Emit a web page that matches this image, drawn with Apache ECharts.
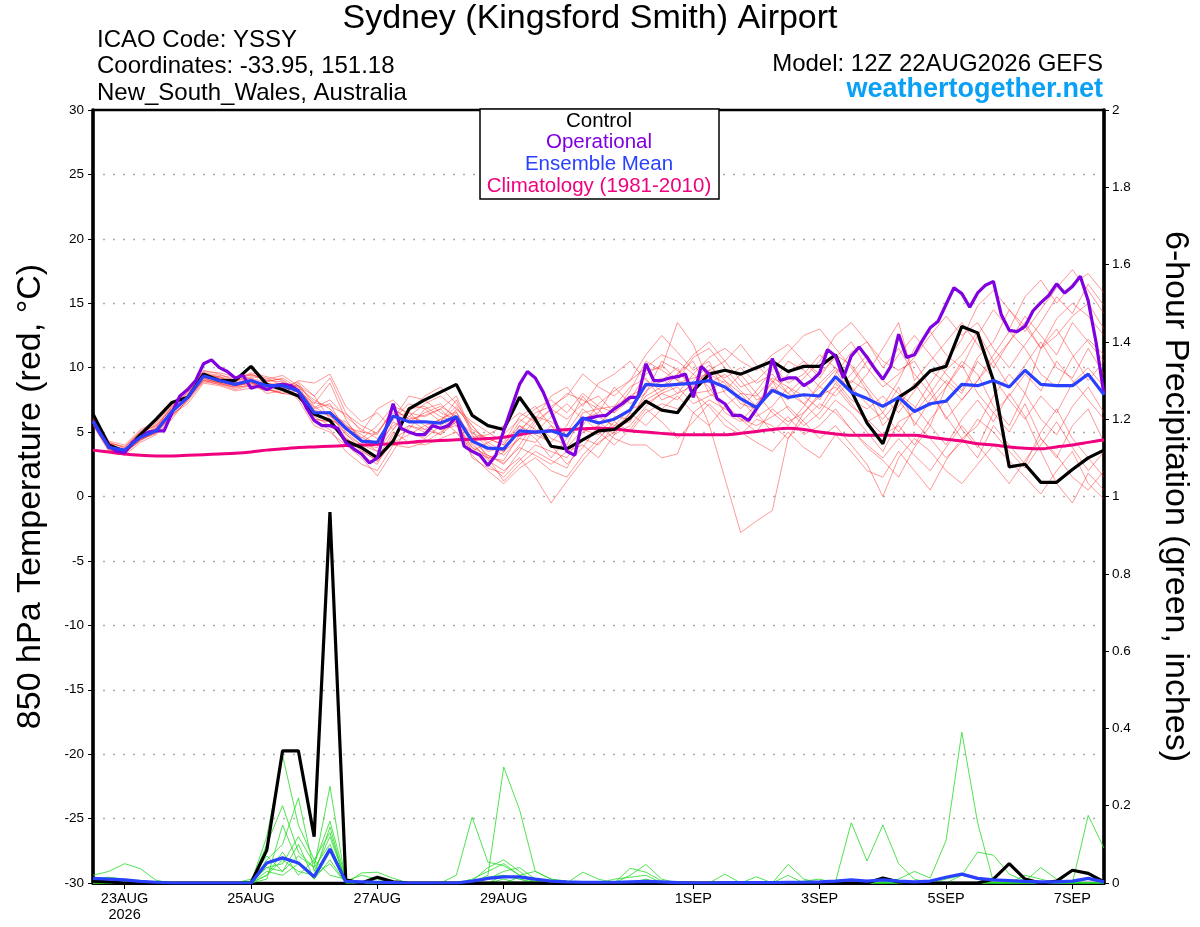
<!DOCTYPE html>
<html><head><meta charset="utf-8">
<script src="https://cdn.jsdelivr.net/npm/echarts@6/dist/echarts.min.js"></script>
<style>html,body{margin:0;padding:0;background:#fff}#c{width:1200px;height:927px}</style>
</head><body><div id="c"></div>
<script>
// ---- time axis (hours since 22AUG2026 12Z) ----
const tickHours = [12, 60, 108, 156, 228, 276, 324, 372];
const tickLabels = ['23AUG\n2026', '25AUG', '27AUG', '29AUG', '1SEP', '3SEP', '5SEP', '7SEP'];
const tempTicks = [-30, -25, -20, -15, -10, -5, 0, 5, 10, 15, 20, 25, 30];
const precipTicks = [0, 0.2, 0.4, 0.6, 0.8, 1, 1.2, 1.4, 1.6, 1.8, 2];

// ---- 850 hPa temperature, 6-hourly (65 steps) ----
const controlTemp = [6.4,4.0,3.5,4.8,6.0,7.3,7.7,9.5,9.0,9.0,
10.1,8.7,8.3,7.8,6.4,5.9,4.3,3.8,3.0,4.3,
6.8,7.5,8.1,8.7,6.3,5.5,5.2,7.7,6.0,3.9,
3.7,4.4,5.1,5.2,6.1,7.4,6.7,6.5,8.2,9.5,
9.8,9.5,10.0,10.5,9.7,10.1,10.1,11.0,8.2,5.7,
4.1,7.7,8.5,9.75,10.1,13.2,12.7,9.0,2.3,2.5,
1.1,1.1,2.1,3.0,3.6];
const meanTemp = [5.85,3.8,3.6,4.6,5.1,6.6,7.7,9.35,9.0,8.7,
9.0,8.6,8.6,8.2,6.5,6.5,5.3,4.3,4.2,6.25,
5.8,5.8,5.7,6.2,4.3,3.75,3.7,5.1,5.0,5.1,
4.7,6.1,5.7,6.0,6.7,8.7,8.6,8.7,8.8,9.0,
8.5,7.6,6.9,8.25,7.7,7.9,7.8,9.3,8.1,7.6,
7.0,7.7,6.6,7.2,7.4,8.7,8.6,9.0,8.5,9.8,
8.7,8.6,8.6,9.5,7.9];
const climoTemp = [3.6,3.45,3.3,3.2,3.15,3.15,3.2,3.25,3.3,3.35,
3.45,3.6,3.7,3.8,3.85,3.9,3.95,4.0,4.05,4.1,
4.2,4.3,4.35,4.4,4.45,4.5,4.6,4.8,5.0,5.1,
5.2,5.25,5.3,5.25,5.1,5.0,4.9,4.8,4.8,4.8,
4.8,4.9,5.05,5.2,5.3,5.2,5.0,4.85,4.75,4.75,
4.75,4.75,4.75,4.6,4.45,4.3,4.1,4.0,3.85,3.75,
3.7,3.85,4.0,4.2,4.4];
// operational run, 3-hourly (129 steps)
const operTemp = [5.85,4.8,3.9,3.5,3.4,4.2,4.6,5.0,5.1,5.1,
6.5,7.8,8.3,9.0,10.3,10.6,10.0,9.7,9.2,9.4,
8.4,8.6,8.3,8.6,8.7,8.6,8.2,6.9,5.9,5.5,
5.5,5.3,4.2,3.7,3.3,2.6,3.0,5.1,7.2,5.3,
5.0,4.8,4.8,5.5,5.3,5.5,6.2,3.9,3.5,3.2,
2.4,3.2,5.1,6.9,8.7,9.7,9.2,8.1,6.6,5.1,
3.5,3.2,6.0,6.1,6.25,6.3,6.8,7.2,7.7,7.7,
10.3,9.0,9.0,9.2,9.3,9.5,7.7,10.1,9.5,7.6,
7.2,6.3,6.3,5.9,6.8,7.7,10.7,9.0,9.2,9.2,
8.6,9.0,9.6,11.4,10.9,9.2,10.9,11.6,10.8,9.9,
9.1,10.1,12.6,10.8,11.0,12.1,13.1,13.6,14.9,16.2,
15.75,14.7,15.8,16.4,16.7,14.1,12.9,12.8,13.2,14.4,
15.05,15.6,16.5,15.8,16.3,17.1,15.2,11.95,7.9];
// ensemble members (red)
const mem01 = [6.0,4.2,3.8,5.0,5.6,6.8,8.3,9.6,9.2,8.9,9.5,9.0,8.9,8.0,6.0,5.8,4.6,3.5,2.8,4.5,5.2,6.8,7.2,6.0,3.0,2.2,1.8,3.5,5.5,6.8,6.0,7.2,7.8,6.5,7.5,9.5,10.2,9.0,8.4,9.8,10.5,9.0,7.5,8.0,9.5,10.5,9.2,11.0,10.2,8.5,7.0,9.0,11.5,12.8,11.0,10.0,12.5,14.5,13.0,15.5,16.8,15.0,16.5,17.3,15.8];
const mem02 = [5.5,3.5,3.2,4.2,4.8,6.0,7.6,9.0,8.7,8.5,8.6,8.8,8.5,8.6,7.8,9.2,6.5,5.0,4.8,6.8,6.0,5.2,4.8,6.8,5.5,4.0,3.2,4.5,4.2,5.5,3.8,5.2,4.8,6.2,6.0,7.8,8.5,9.5,10.5,8.0,7.2,6.0,5.0,6.8,5.8,6.5,7.8,8.5,7.0,6.0,4.8,5.5,4.0,6.0,7.5,5.2,3.8,6.5,5.0,7.2,4.5,3.0,5.5,6.8,4.2];
const mem03 = [6.2,4.0,3.4,4.8,5.3,7.0,8.0,9.8,9.5,9.0,9.2,8.3,8.0,8.8,7.0,6.2,5.8,4.5,5.5,7.0,6.5,6.2,6.8,5.5,3.8,3.2,2.5,4.0,5.8,4.5,4.0,6.5,6.8,5.2,6.5,9.8,10.0,13.5,11.8,8.8,9.5,8.2,7.0,9.0,6.8,5.5,6.5,8.2,9.5,11.0,9.0,8.0,7.0,5.5,8.5,10.5,9.5,7.0,5.5,8.0,11.5,13.0,11.0,9.0,10.5];
const mem04 = [5.8,3.7,3.5,4.4,5.0,6.4,7.2,8.8,8.6,8.2,8.4,8.5,8.8,7.5,5.5,5.0,4.0,3.0,1.6,3.5,5.5,5.0,5.8,7.5,4.8,3.0,1.2,2.5,3.5,2.8,2.2,4.5,4.0,5.5,6.8,7.2,8.0,7.5,9.0,10.2,9.0,7.5,6.2,7.0,8.5,7.2,6.0,7.5,6.5,5.0,3.5,5.8,6.5,8.0,6.2,4.5,5.5,7.8,9.5,8.0,6.0,4.8,7.0,8.5,6.5];
const mem05 = [6.0,3.9,3.7,4.7,5.4,6.9,8.1,9.4,9.3,8.8,8.9,8.0,8.2,9.0,8.8,9.5,7.0,5.8,6.5,5.2,6.8,7.0,6.2,5.8,3.5,4.2,4.8,6.0,5.2,4.0,2.5,3.8,5.5,7.0,7.8,8.5,9.2,8.0,9.5,8.5,6.5,5.8,7.2,8.8,10.5,9.8,8.5,9.8,8.0,9.5,11.5,13.5,9.0,10.5,12.0,13.5,11.8,10.0,12.0,14.0,12.5,11.0,13.5,12.0,10.5];
const mem06 = [5.6,3.6,3.3,4.5,4.9,6.2,7.5,9.2,8.8,8.4,8.7,8.9,9.2,8.4,6.8,7.2,5.0,4.0,3.5,5.8,5.0,4.5,5.5,6.5,4.5,3.5,3.8,5.2,6.2,5.8,5.0,6.8,5.8,4.8,5.5,7.0,8.0,8.5,7.2,7.8,8.2,9.5,8.0,6.5,5.5,7.0,8.8,10.0,8.5,7.2,6.0,7.5,5.8,4.5,3.0,4.2,6.0,5.0,3.5,2.2,4.0,5.8,3.8,2.0,3.5];
const mem07 = [6.3,4.3,4.0,5.2,5.8,7.2,8.5,9.7,9.6,9.3,9.4,9.2,8.6,8.5,7.5,6.8,5.5,4.8,4.0,6.0,7.2,6.8,5.8,7.0,5.2,4.5,4.0,5.8,6.8,7.5,6.5,8.0,7.0,6.5,8.2,10.5,9.8,9.0,10.8,11.5,10.0,8.5,9.0,10.2,8.8,9.5,11.0,10.0,8.8,10.5,9.2,11.0,12.5,11.0,9.5,8.2,10.8,12.0,14.5,13.2,11.5,13.8,15.0,14.0,12.5];
const mem08 = [5.7,3.8,3.5,4.3,5.2,6.6,7.8,9.0,8.9,8.6,8.8,8.4,8.0,7.8,6.2,5.5,4.5,3.8,3.0,5.0,4.2,4.0,4.5,5.0,3.2,2.0,1.0,2.2,3.0,2.0,1.5,3.2,4.5,5.8,5.0,6.5,7.2,6.8,8.0,7.0,5.5,4.8,6.0,5.5,4.5,6.0,7.2,6.5,5.2,4.0,3.0,4.5,3.2,2.0,3.8,5.5,4.0,2.5,1.0,2.8,4.5,3.2,1.5,0.5,2.0];
const mem09 = [6.1,4.1,3.6,4.9,5.5,6.5,7.9,9.5,9.1,9.1,9.6,9.3,9.0,8.2,7.2,8.8,6.0,4.2,5.0,6.5,5.8,6.5,7.0,6.2,4.0,3.0,2.8,4.8,5.0,6.2,7.2,6.0,6.5,8.5,7.2,8.0,10.5,9.8,8.5,5.6,1.4,-2.8,-1.9,-1.1,4.5,6.5,8.0,9.0,7.5,6.8,7.8,6.5,8.2,9.8,8.8,7.5,9.0,10.5,8.5,10.2,12.0,10.0,9.2,11.5,9.5];
const mem10 = [5.9,3.9,3.4,4.6,5.0,6.7,7.7,9.3,9.0,8.7,9.0,8.7,8.8,8.6,6.6,6.3,4.8,4.0,3.8,6.2,6.5,5.5,6.0,6.6,4.2,2.8,2.0,3.0,1.5,-0.5,1.2,2.8,4.2,5.0,6.0,7.5,8.2,8.8,9.2,9.5,8.8,7.2,6.8,8.5,7.5,8.8,7.5,9.5,11.2,12.0,10.5,9.8,10.5,8.5,6.0,7.5,9.0,11.0,12.8,11.5,9.5,8.5,10.8,12.2,11.0];
const mem11 = [5.8,3.7,3.6,4.5,5.2,6.5,7.6,9.1,8.9,8.6,8.9,8.6,8.7,8.1,6.3,6.0,5.4,5.0,6.8,7.5,6.2,5.8,5.2,5.5,4.6,4.8,5.5,6.5,5.8,6.8,8.0,7.5,6.8,7.0,8.5,9.2,7.5,8.0,8.6,9.8,9.2,10.0,8.8,9.5,8.0,7.2,8.5,7.8,9.0,8.2,5.5,7.0,8.8,7.0,8.5,10.2,8.0,6.5,7.8,9.5,8.2,10.5,9.0,7.5,6.0];
const mem12 = [6.1,4.0,3.7,4.7,5.1,6.8,7.9,9.4,9.2,8.8,9.1,8.5,8.4,8.3,6.9,7.5,6.2,5.2,4.5,6.0,7.8,7.5,6.5,6.0,4.9,4.5,4.0,5.5,4.8,4.2,5.5,7.8,6.2,5.5,5.8,8.2,9.0,10.0,8.0,8.2,9.0,8.0,7.8,9.2,8.5,7.8,6.8,8.8,7.2,5.8,6.5,8.5,5.5,7.5,9.0,8.0,10.5,9.2,7.5,6.0,7.8,6.5,8.8,10.0,8.5];
const mem13 = [5.7,3.8,3.3,4.4,5.0,6.3,7.4,8.9,8.7,8.3,8.6,8.2,8.3,7.9,5.8,5.2,3.5,2.5,2.0,4.0,3.8,4.2,5.0,5.8,3.8,2.5,1.5,2.8,4.0,3.5,3.0,5.0,5.5,4.5,4.0,4.0,3.0,3.3,6.5,7.5,6.8,6.0,5.5,6.2,7.0,5.8,4.5,5.5,4.0,2.5,0.0,3.0,4.5,3.5,2.0,1.0,2.5,4.0,2.8,1.5,0.2,2.0,3.5,1.0,-0.2];
const mem14 = [6.0,4.1,3.9,5.0,5.5,7.0,8.2,9.5,9.3,9.0,9.3,9.1,9.4,8.6,7.3,7.0,6.4,5.5,4.9,6.8,6.0,6.3,6.8,7.8,5.0,3.8,3.5,5.0,6.5,7.0,7.8,9.5,8.5,7.8,9.0,10.0,11.0,10.5,9.5,10.8,11.5,10.5,9.8,11.0,11.8,10.5,9.5,10.8,12.0,10.0,8.5,9.5,10.8,12.5,14.0,12.5,13.5,11.5,10.0,11.8,13.5,15.5,14.2,16.5,14.8];
const mem15 = [5.9,3.8,3.5,4.6,5.3,6.7,7.8,9.2,9.1,8.8,9.2,8.8,8.5,8.9,7.8,6.0,5.2,4.6,4.0,5.5,6.2,7.2,7.8,6.8,5.8,5.0,4.2,6.2,7.0,5.5,4.8,5.5,7.2,8.2,9.0,11.0,12.5,11.2,9.8,10.5,8.0,6.8,8.2,9.8,11.2,12.5,13.0,11.5,10.0,8.2,6.5,5.0,6.8,8.8,10.5,12.2,14.8,16.0,14.5,12.8,14.5,16.2,17.6,16.0,14.2];
const mem16 = [5.7,3.6,3.4,4.4,4.9,6.3,7.5,9.0,8.8,8.5,8.9,8.3,8.0,8.2,6.0,5.8,4.2,3.2,2.5,4.8,5.5,5.2,6.0,5.0,3.6,3.0,3.4,5.5,4.5,3.0,4.5,6.2,5.0,4.0,5.2,6.8,5.8,4.5,5.8,7.2,6.0,5.0,4.2,3.5,5.0,3.8,3.0,4.8,3.5,2.0,1.5,3.5,2.0,0.5,2.8,4.5,3.0,5.5,4.0,2.5,5.0,6.8,4.5,3.0,1.5];
const mem17 = [6.2,4.2,3.8,5.1,5.7,7.1,8.4,9.6,9.4,9.2,9.5,9.0,9.1,8.0,6.5,6.6,5.6,4.4,3.5,5.2,6.6,7.8,8.5,7.2,5.5,4.2,3.5,4.5,6.0,7.8,8.5,7.0,8.8,9.5,10.5,9.0,8.2,9.5,11.0,12.0,10.5,11.8,10.2,9.0,8.0,9.2,10.5,12.5,13.5,12.0,10.0,11.5,9.5,8.0,9.8,11.0,12.8,10.5,12.0,13.5,11.5,12.5,14.0,15.0,13.0];
const mem18 = [5.8,3.9,3.6,4.5,5.1,6.5,7.7,9.2,8.8,8.6,8.8,8.6,8.5,8.3,6.7,6.4,4.9,3.6,2.7,4.2,4.8,5.5,4.8,5.8,4.4,3.2,2.6,3.8,3.2,2.5,3.5,4.0,3.0,4.8,6.5,5.5,6.8,7.8,6.5,5.5,7.0,8.0,6.5,5.0,6.2,4.8,5.5,6.8,5.2,3.8,2.8,1.5,3.8,5.5,4.0,6.0,7.5,5.8,8.0,6.2,3.5,1.0,-0.5,1.8,0.5];
const memberTemps = [mem01, mem02, mem03, mem04, mem05, mem06, mem07, mem08, mem09, mem10, mem11, mem12, mem13, mem14, mem15, mem16, mem17, mem18];

// ---- 6-hour precipitation (inches), 6-hourly ----
const controlPrecip = [0.005,0.003,0,0,0,0,0,0,0,0,
0,0.085,0.342,0.342,0.12,0.96,0.008,0,0.015,0.003,
0,0,0,0,0,0,0,0,0,0,
0,0,0,0,0,0,0,0,0,0,
0,0,0,0,0,0,0,0,0,0,
0.013,0.003,0,0,0,0,0,0.01,0.05,0.01,
0,0.005,0.033,0.025,0.003];
const meanPrecip = [0.012,0.01,0.008,0.004,0.002,0,0,0,0,0,
0,0.052,0.065,0.052,0.016,0.088,0.004,0.003,0.002,0.001,
0,0,0,0,0.005,0.012,0.016,0.016,0.01,0.005,
0.003,0.002,0.002,0.002,0.003,0.004,0.003,0.001,0,0,
0.001,0.001,0.001,0.001,0.002,0.002,0.003,0.005,0.008,0.005,
0.008,0.005,0.003,0.005,0.015,0.023,0.012,0.008,0.006,0.004,
0.003,0.003,0.005,0.012,0.003];
const pm01 = [0.02,0.03,0.05,0.037,0.007,0,0,0,0,0, 0,0.12,0.33,0.15,0.06,0.02,0.01,0,0,0, 0,0,0,0,0.01,0.03,0.05,0.02,0,0, 0,0,0,0,0.02,0.048,0.01,0,0,0, 0,0,0,0,0,0,0,0,0,0, 0,0,0,0,0,0,0,0,0,0, 0,0,0,0,0];
const pm02 = [0.01,0.015,0.01,0.005,0,0,0,0,0,0, 0.002,0.06,0.1,0.22,0.03,0.12,0.005,0.02,0.01,0, 0,0,0,0,0,0.02,0.30,0.19,0.03,0.01, 0,0.028,0.01,0,0.038,0.028,0.005,0,0,0, 0,0,0,0,0,0,0,0,0,0, 0,0,0,0,0,0,0,0,0,0, 0,0,0,0,0];
const pm03 = [0.005,0.01,0.005,0,0,0,0,0,0,0, 0,0.1,0.2,0.08,0.04,0.25,0,0.026,0.028,0.012, 0,0,0,0.02,0.17,0.054,0.045,0.02,0.03,0.01, 0.005,0,0,0,0,0,0,0,0,0, 0.023,0,0.016,0,0.048,0.01,0,0,0,0, 0,0,0,0,0,0,0,0,0,0, 0,0,0,0,0];
const pm04 = [0,0,0,0,0,0,0,0,0,0, 0,0.04,0.05,0.12,0.05,0.16,0.01,0,0,0, 0,0,0,0,0,0,0.02,0.01,0,0, 0,0,0,0,0,0.01,0,0,0,0, 0,0,0,0,0,0,0,0.003,0.156,0.057, 0.15,0.05,0.01,0,0,0,0,0,0,0, 0,0,0,0,0];
const pm05 = [0,0,0,0,0,0,0,0,0,0, 0,0.02,0.06,0.03,0.02,0.145,0,0,0,0, 0,0,0,0,0,0,0.01,0,0,0, 0,0,0,0,0,0,0,0,0,0, 0,0,0,0,0,0,0,0,0,0, 0.003,0.01,0.03,0.013,0.11,0.39,0.156,0.003,0,0, 0,0,0,0,0];
const pm06 = [0,0,0,0,0,0,0,0,0,0, 0,0.03,0.02,0.05,0.01,0.06,0,0,0,0, 0,0,0,0,0,0.01,0.03,0.04,0.01,0, 0,0,0,0,0,0,0,0,0,0, 0,0,0,0,0,0.005,0.01,0,0,0, 0,0,0,0,0.01,0.02,0.08,0.072,0.023,0.005, 0.04,0.01,0,0,0];
const pm07 = [0,0,0,0,0,0,0,0,0,0, 0,0.01,0.15,0.05,0.02,0.05,0,0,0,0, 0,0,0,0,0,0,0,0,0,0, 0,0,0,0,0,0,0,0,0,0, 0,0,0,0,0,0,0,0,0,0, 0,0,0,0,0,0,0,0,0,0.02, 0.01,0,0,0.175,0.09];
const pm08 = [0,0,0,0,0,0,0,0,0,0, 0.005,0.04,0.03,0.07,0.04,0.1,0.003,0,0,0, 0,0,0,0,0,0.015,0.02,0.01,0,0, 0,0,0,0.01,0.015,0.02,0,0,0,0, 0,0,0,0,0.02,0,0,0,0,0, 0,0,0,0,0,0.02,0.01,0,0,0, 0,0,0,0,0];
const pm09 = [0,0,0,0,0,0,0,0,0,0, 0,0.02,0.08,0.02,0.06,0.13,0.005,0,0,0, 0,0,0,0,0.005,0.04,0.06,0.03,0,0, 0,0,0,0,0,0,0,0,0,0, 0,0,0,0,0,0,0,0,0,0, 0,0,0,0,0,0,0,0,0,0, 0,0,0,0.01,0];
const pm10 = [0,0,0,0,0,0,0,0,0,0, 0.01,0.07,0.03,0.1,0.01,0.08,0,0,0,0, 0,0,0,0,0,0,0,0.015,0.005,0, 0,0,0,0,0,0,0,0,0,0, 0,0,0,0,0,0,0,0,0,0, 0,0,0,0,0,0,0,0,0,0, 0,0,0,0,0];
const memberPrecips = [pm01, pm02, pm03, pm04, pm05, pm06, pm07, pm08, pm09, pm10];

// ---- build ----
const STEP6 = 6, STEP3 = 3;
const pairs = (arr, step) => arr.map((v, i) => [i * step, v]);
const FONT = '"Liberation Sans", Arial, Helvetica, sans-serif';
const C_CTRL = '#000000', C_OPER = '#8000e0', C_MEAN = '#2a40ff', C_CLIM = '#f0007e';
const C_RED = 'rgba(255,40,40,0.6)', C_GREEN = 'rgba(40,220,40,0.9)';

const series = [];
memberTemps.forEach((m, k) => series.push({
  name: 'm' + k, type: 'line', yAxisIndex: 0, data: pairs(m, STEP6), showSymbol: false,
  lineStyle: { color: C_RED, width: 0.8 }, z: 2, silent: true
}));
memberPrecips.forEach((m, k) => series.push({
  name: 'p' + k, type: 'line', yAxisIndex: 1, data: pairs(m, STEP6), showSymbol: false,
  lineStyle: { color: C_GREEN, width: 0.9 }, z: 2, silent: true
}));
series.push({ name: 'Climatology', type: 'line', yAxisIndex: 0, data: pairs(climoTemp, STEP6), showSymbol: false, smooth: 0.3,
  lineStyle: { color: C_CLIM, width: 3 }, z: 3 });
series.push({ name: 'Control', type: 'line', yAxisIndex: 0, data: pairs(controlTemp, STEP6), showSymbol: false,
  lineStyle: { color: C_CTRL, width: 3.2 }, z: 4 });
series.push({ name: 'ControlP', type: 'line', yAxisIndex: 1, data: pairs(controlPrecip, STEP6), showSymbol: false,
  lineStyle: { color: C_CTRL, width: 3.2 }, z: 4 });
series.push({ name: 'Operational', type: 'line', yAxisIndex: 0, data: pairs(operTemp, STEP3), showSymbol: false,
  lineStyle: { color: C_OPER, width: 3.2 }, z: 5 });
series.push({ name: 'Mean', type: 'line', yAxisIndex: 0, data: pairs(meanTemp, STEP6), showSymbol: false,
  lineStyle: { color: C_MEAN, width: 3.2 }, z: 6 });
series.push({ name: 'MeanP', type: 'line', yAxisIndex: 1, data: pairs(meanPrecip, STEP6), showSymbol: false,
  lineStyle: { color: C_MEAN, width: 3.2 }, z: 6 });

const chart = echarts.init(document.getElementById('c'), null, { renderer: 'canvas' });
chart.setOption({
  animation: false,
  backgroundColor: '#ffffff',
  grid: { left: 93, right: 95, top: 110, bottom: 44, show: true, borderColor: '#000', borderWidth: 2.5, backgroundColor: 'transparent' },
  xAxis: {
    type: 'value', min: 0, max: 384,
    axisLine: { show: true, onZero: false, lineStyle: { color: '#000', width: 3 } },
    axisTick: { show: true, customValues: tickHours, length: 6, lineStyle: { color: '#000', width: 1 } },
    axisLabel: { customValues: tickHours, formatter: v => { const k = tickHours.indexOf(v); return k >= 0 ? tickLabels[k] : ''; },
      color: '#000', fontFamily: FONT, fontSize: 14.5, margin: 8, lineHeight: 16 },
    splitLine: { show: false }
  },
  yAxis: [{
    type: 'value', min: tempTicks[0], max: tempTicks[tempTicks.length - 1], interval: 5, position: 'left',
    name: '850 hPa Temperature (red, \u00B0C)', nameLocation: 'middle', nameRotate: 90, nameGap: 45,
    nameTextStyle: { fontFamily: FONT, fontSize: 34, color: '#000' },
    axisLine: { show: true, lineStyle: { color: '#000', width: 3.5 } },
    axisTick: { show: true, length: 5, lineStyle: { color: '#000', width: 1 } },
    axisLabel: { color: '#000', fontFamily: FONT, fontSize: 13.5, margin: 9 },
    splitLine: { show: true, showMinLine: false, showMaxLine: false, lineStyle: { color: '#aaaaaa', type: [2, 8], width: 1.3 } }
  }, {
    type: 'value', min: precipTicks[0], max: precipTicks[precipTicks.length - 1], interval: 0.2, position: 'right',
    name: '6-hour Precipitation (green, inches)', nameLocation: 'middle', nameRotate: -90, nameGap: 54,
    nameTextStyle: { fontFamily: FONT, fontSize: 34, color: '#000' },
    axisLine: { show: true, lineStyle: { color: '#000', width: 3.5 } },
    axisTick: { show: true, length: 5, lineStyle: { color: '#000', width: 1 } },
    axisLabel: { color: '#000', fontFamily: FONT, fontSize: 13.5, margin: 8 },
    splitLine: { show: false }
  }],
  series: series,
  graphic: [
    { type: 'text', x: 590, y: 19, style: { text: 'Sydney (Kingsford Smith) Airport', font: '34px ' + FONT, fill: '#000', align: 'center', verticalAlign: 'middle' } },
    { type: 'text', x: 97, y: 40, style: { text: 'ICAO Code: YSSY', font: '24px ' + FONT, fill: '#000', verticalAlign: 'middle' } },
    { type: 'text', x: 97, y: 66, style: { text: 'Coordinates: -33.95, 151.18', font: '24px ' + FONT, fill: '#000', verticalAlign: 'middle' } },
    { type: 'text', x: 97, y: 93, style: { text: 'New_South_Wales, Australia', font: '24px ' + FONT, fill: '#000', verticalAlign: 'middle' } },
    { type: 'text', x: 1103, y: 64, style: { text: 'Model: 12Z 22AUG2026 GEFS', font: '24px ' + FONT, fill: '#000', align: 'right', verticalAlign: 'middle' } },
    { type: 'text', x: 1103, y: 90, style: { text: 'weathertogether.net', font: 'bold 27px ' + FONT, fill: '#09a0f5', align: 'right', verticalAlign: 'middle' } },
    { type: 'rect', shape: { x: 480, y: 109, width: 239, height: 90 }, style: { fill: '#fff', stroke: '#000', lineWidth: 1.5 }, z: 20 },
    { type: 'text', x: 599, y: 121, style: { text: 'Control', font: '20.5px ' + FONT, fill: C_CTRL, align: 'center', verticalAlign: 'middle' }, z: 21 },
    { type: 'text', x: 599, y: 142, style: { text: 'Operational', font: '20.5px ' + FONT, fill: C_OPER, align: 'center', verticalAlign: 'middle' }, z: 21 },
    { type: 'text', x: 599, y: 164, style: { text: 'Ensemble Mean', font: '20.5px ' + FONT, fill: C_MEAN, align: 'center', verticalAlign: 'middle' }, z: 21 },
    { type: 'text', x: 599, y: 186, style: { text: 'Climatology (1981-2010)', font: '20.5px ' + FONT, fill: C_CLIM, align: 'center', verticalAlign: 'middle' }, z: 21 }
  ]
});
</script></body></html>
